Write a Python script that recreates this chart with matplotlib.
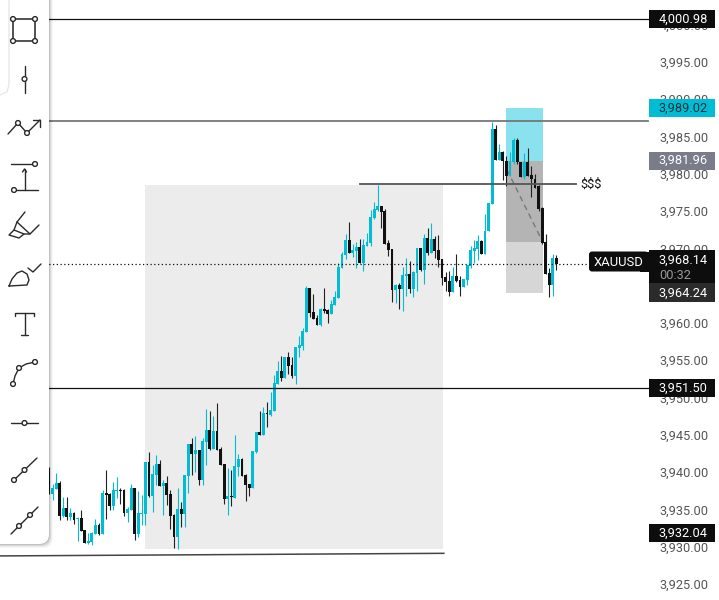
import numpy as np
import matplotlib
matplotlib.use("Agg")
import matplotlib.pyplot as plt
from matplotlib.patches import Rectangle, FancyBboxPatch, Circle

plt.rcParams['font.family'] = ['Roboto', 'DejaVu Sans']

# ------------------------------
# DATA
# ------------------------------
opens = [3940.20, 3937.20, 3937.88, 3938.68, 3934.25, 3935.33, 3934.12, 3934.66, 3933.85, 3933.99,
         3932.38, 3930.63, 3930.77, 3931.84, 3933.05, 3931.84, 3937.34, 3937.20, 3935.60, 3937.61,
         3937.74, 3937.74, 3934.66, 3935.06, 3938.01, 3931.84, 3934.52, 3934.52, 3941.50, 3936.94,
         3939.75, 3941.23, 3938.28, 3938.68, 3937.20, 3934.39, 3931.44, 3935.19, 3934.52, 3939.62,
         3943.91, 3942.57, 3943.10, 3939.08, 3944.18, 3945.79, 3943.24, 3945.65, 3943.24, 3941.23,
         3936.53, 3936.94, 3936.67, 3940.83, 3941.90, 3939.75, 3938.55, 3938.01, 3942.84, 3945.52,
         3945.12, 3948.07, 3947.80, 3948.33, 3951.95, 3953.70, 3952.76, 3955.57, 3954.50, 3953.03,
         3956.78, 3957.05, 3958.93, 3964.83, 3961.61, 3960.80, 3959.86, 3962.01, 3961.88, 3961.34,
         3962.55, 3963.49, 3967.51, 3969.25, 3971.26, 3969.52, 3969.79, 3970.32, 3968.18, 3970.46,
         3970.86, 3974.21, 3975.29, 3975.82, 3975.15, 3970.86, 3970.06, 3964.56, 3965.23, 3964.69,
         3966.44, 3966.70, 3964.69, 3966.84, 3970.19, 3967.24, 3971.53, 3969.52, 3971.40, 3969.92,
         3968.72, 3966.30, 3965.76, 3964.29, 3966.44, 3965.90, 3964.96, 3965.90, 3967.78, 3969.79,
         3970.06, 3971.13, 3969.48, 3972.52, 3976.18, 3986.15, 3981.99, 3983.07, 3981.86, 3979.85,
         3981.73, 3984.68, 3981.73, 3979.71, 3981.73, 3979.98, 3979.45, 3978.51, 3975.56, 3971.00,
         3966.84, 3965.23, 3968.85]
highs = [3940.87, 3938.55, 3940.02, 3938.95, 3936.80, 3936.80, 3935.33, 3934.79, 3934.12, 3935.06,
         3932.38, 3931.97, 3932.11, 3933.85, 3933.32, 3937.74, 3940.42, 3937.34, 3938.81, 3939.48,
         3938.01, 3937.88, 3935.46, 3938.55, 3938.01, 3937.61, 3937.07, 3941.50, 3942.84, 3941.09,
         3942.43, 3941.76, 3939.08, 3939.62, 3937.74, 3934.52, 3938.01, 3936.13, 3939.75, 3943.91,
         3944.71, 3944.98, 3943.10, 3944.71, 3948.60, 3948.33, 3947.66, 3949.41, 3943.51, 3941.23,
         3940.69, 3940.42, 3945.12, 3942.57, 3942.03, 3939.89, 3938.55, 3942.97, 3945.52, 3948.33,
         3948.87, 3949.54, 3950.88, 3953.16, 3955.04, 3955.71, 3955.57, 3956.24, 3955.57, 3956.91,
         3958.39, 3959.46, 3965.09, 3964.83, 3964.02, 3961.21, 3962.14, 3964.83, 3962.01, 3963.22,
         3964.42, 3968.18, 3969.65, 3972.07, 3973.68, 3970.73, 3970.99, 3971.40, 3971.40, 3972.20,
         3975.29, 3976.36, 3978.64, 3975.82, 3975.42, 3971.26, 3970.06, 3965.36, 3965.50, 3967.64,
         3968.85, 3968.45, 3967.11, 3970.19, 3970.19, 3972.07, 3972.87, 3973.54, 3971.80, 3971.93,
         3968.72, 3966.97, 3967.11, 3967.64, 3969.39, 3966.44, 3966.03, 3967.91, 3970.46, 3971.26,
         3971.93, 3971.27, 3974.84, 3976.27, 3987.09, 3986.69, 3984.14, 3983.20, 3982.53, 3983.07,
         3984.94, 3984.94, 3981.73, 3982.93, 3983.60, 3981.19, 3980.12, 3978.64, 3975.69, 3972.07,
         3967.51, 3969.39, 3969.25]
lows = [3937.20, 3936.40, 3937.88, 3933.72, 3934.12, 3933.72, 3933.72, 3933.18, 3930.90, 3932.24,
        3930.63, 3930.50, 3930.37, 3931.84, 3931.71, 3931.84, 3933.85, 3935.06, 3935.06, 3936.67,
        3935.86, 3934.25, 3933.45, 3935.06, 3931.04, 3931.44, 3933.05, 3933.05, 3936.80, 3934.79,
        3938.41, 3938.28, 3934.39, 3935.73, 3932.51, 3929.96, 3929.83, 3932.78, 3932.78, 3937.34,
        3939.75, 3940.15, 3938.41, 3938.41, 3941.09, 3943.10, 3943.24, 3943.10, 3941.09, 3935.86,
        3934.39, 3935.60, 3936.67, 3939.62, 3939.62, 3936.27, 3936.94, 3938.01, 3942.70, 3945.12,
        3945.12, 3946.19, 3947.66, 3948.33, 3951.95, 3952.35, 3952.76, 3953.29, 3952.76, 3951.95,
        3955.57, 3956.51, 3958.93, 3960.94, 3960.67, 3959.86, 3959.73, 3961.47, 3960.13, 3961.34,
        3962.55, 3963.49, 3967.51, 3968.72, 3969.52, 3968.98, 3967.51, 3968.18, 3967.11, 3970.46,
        3970.46, 3974.08, 3975.15, 3972.87, 3970.73, 3969.12, 3962.95, 3962.81, 3962.01, 3961.74,
        3963.75, 3964.16, 3963.62, 3964.42, 3967.11, 3965.36, 3969.25, 3969.52, 3968.85, 3967.64,
        3965.23, 3964.42, 3963.75, 3964.29, 3965.63, 3963.75, 3964.96, 3965.23, 3967.51, 3968.18,
        3968.58, 3969.39, 3969.39, 3972.52, 3976.18, 3981.99, 3981.99, 3979.31, 3978.51, 3979.85,
        3981.55, 3981.55, 3979.71, 3979.54, 3979.85, 3977.03, 3978.24, 3975.15, 3970.73, 3966.71,
        3963.62, 3963.76, 3967.24]
closes = [3937.96, 3938.01, 3938.68, 3934.25, 3935.33, 3934.12, 3934.66, 3933.72, 3933.99, 3932.24,
          3930.63, 3930.90, 3931.97, 3933.05, 3931.84, 3937.34, 3937.07, 3935.60, 3937.74, 3937.74,
          3937.61, 3934.66, 3935.19, 3938.01, 3931.84, 3934.66, 3934.66, 3941.50, 3936.94, 3939.89,
          3941.23, 3938.28, 3938.68, 3937.07, 3934.25, 3931.44, 3935.19, 3934.52, 3939.75, 3943.91,
          3942.57, 3943.10, 3939.08, 3944.31, 3945.79, 3943.24, 3945.65, 3943.10, 3941.09, 3936.53,
          3936.94, 3936.80, 3940.96, 3941.90, 3939.62, 3938.41, 3938.01, 3942.97, 3945.52, 3945.12,
          3948.07, 3947.93, 3948.47, 3952.09, 3953.70, 3952.76, 3955.57, 3954.37, 3953.03, 3956.91,
          3957.18, 3959.06, 3964.83, 3961.47, 3960.67, 3959.86, 3962.01, 3961.74, 3961.34, 3962.68,
          3963.62, 3967.64, 3969.39, 3971.26, 3969.52, 3969.92, 3970.32, 3968.18, 3970.59, 3970.99,
          3974.35, 3975.42, 3975.82, 3975.02, 3970.73, 3969.92, 3964.56, 3965.23, 3964.69, 3966.57,
          3966.70, 3964.69, 3966.97, 3970.19, 3967.24, 3971.53, 3969.52, 3971.40, 3969.79, 3968.58,
          3966.17, 3965.63, 3964.29, 3966.44, 3965.76, 3964.96, 3966.03, 3967.91, 3969.92, 3970.19,
          3971.13, 3969.48, 3972.52, 3976.27, 3986.15, 3981.99, 3983.07, 3981.86, 3979.85, 3981.86,
          3984.68, 3981.73, 3979.71, 3981.73, 3979.85, 3979.45, 3978.33, 3975.42, 3970.86, 3966.71,
          3965.23, 3968.85, 3968.05]

axis_ticks = [4000, 3995, 3990, 3985, 3980, 3975, 3970, 3965, 3960, 3955, 3950, 3945, 3940, 3935, 3930, 3925]

level_black = [4000.98, 3951.50]
level_grey = 3987.25
level_liquidity = 3978.78
last_price = 3968.14

# zone (bar index from/to, price from/to)
zone_bars = [26.87, 110.3]
zone_prices = [3929.83, 3978.64]

# position box
box_bars = [127.9, 138.3]
box_target = 3989.02
box_entry = 3981.96
box_mid = 3971.00
box_stop = 3964.24

CYAN = '#00BCD4'
DARK = '#111111'
FS = 9.2

# ------------------------------
# FIGURE
# ------------------------------
fig = plt.figure(figsize=(7.19, 6.0), dpi=100)
ax = fig.add_axes([0, 0, 1, 1])
ax.set_xlim(-13.71, 187.5)
ax.set_ylim(3923.04, 4003.50)
ax.axis('off')
axis_left = 648 / 719  # start of price scale in axes fraction
ytrans = ax.get_yaxis_transform()  # x in axes fraction, y in price

# shaded zone
ax.add_patch(Rectangle((zone_bars[0], zone_prices[0]), zone_bars[1] - zone_bars[0],
                       zone_prices[1] - zone_prices[0], color='#ececec', lw=0, zorder=1))

# position box
box_w = box_bars[1] - box_bars[0]
ax.add_patch(Rectangle((box_bars[0], box_entry), box_w, box_target - box_entry, color='#8ae2ee', lw=0, zorder=1))
ax.add_patch(Rectangle((box_bars[0], box_mid), box_w, box_entry - box_mid, color='#b4b4b4', lw=0, zorder=1))
ax.add_patch(Rectangle((box_bars[0], box_stop), box_w, box_mid - box_stop, color='#d6d6d6', lw=0, zorder=1))
ax.plot([128.2, 137.9], [3980.7, 3971.3], color='#77777f', lw=1, ls=(0, (4, 3)), zorder=2)

# candles
idx = np.arange(len(opens))
o, h, l, c = map(np.array, (opens, highs, lows, closes))
up = c >= o
ax.vlines(idx[up], l[up], h[up], color=CYAN, lw=0.8, zorder=3)
ax.vlines(idx[~up], l[~up], h[~up], color='#222222', lw=0.8, zorder=3)
ax.bar(idx[up], np.maximum(c - o, 0.2)[up], bottom=o[up], width=0.8, color=CYAN, lw=0, zorder=4)
ax.bar(idx[~up], np.maximum(o - c, 0.2)[~up], bottom=c[~up], width=0.8, color=DARK, lw=0, zorder=4)

# horizontal levels
for lv in level_black:
    ax.plot([0, axis_left], [lv, lv], color='#111111', lw=0.9, transform=ytrans, zorder=5)
ax.plot([0, axis_left], [level_grey, level_grey], color='#777777', lw=1.3, transform=ytrans, zorder=5)
ax.plot([87.0, 147.5], [level_liquidity, level_liquidity], color='#555555', lw=1.3, zorder=5)
ax.text(148.6, level_liquidity, '$$$', fontsize=FS, color='#111111', va='center', ha='left', zorder=6)
ax.plot([-13.71, 110.5], [3928.95, 3929.3], color='#444444', lw=1.1, zorder=5)
ax.plot([0, axis_left], [last_price, last_price], color='#111111', lw=0.9, ls=(0, (1, 2)), transform=ytrans, zorder=5)

# price scale
for t in axis_ticks:
    ax.text(684 / 719, t, f"{t:,.2f}", transform=ytrans, fontsize=FS, color='#555555',
            ha='center', va='center', zorder=7)


def tag(price, label, face, color='white', half=1.22):
    # right hand price tag
    ax.add_patch(Rectangle((649 / 719, price - half), 66 / 719, 2 * half, transform=ytrans,
                           color=face, lw=0, zorder=8))
    ax.text(683 / 719, price, label, transform=ytrans, fontsize=FS, color=color,
            ha='center', va='center', zorder=9)


tag(4000.98, '4,000.98', '#0d0d0d')
tag(3989.02, '3,989.02', CYAN, color='#10323a')
tag(3981.96, '3,981.96', '#7a7c8a')
tag(3951.50, '3,951.50', '#0d0d0d')
tag(3932.04, '3,932.04', '#0d0d0d')

# current price block
ax.add_patch(Rectangle((649 / 719, 3964.24 + 1.25), 66 / 719, 4.55, transform=ytrans,
                       color='#0d0d0d', lw=0, zorder=8))
ax.add_patch(Rectangle((649 / 719, 3964.24 - 1.25), 66 / 719, 2.5, transform=ytrans,
                       color='#2b2b2b', lw=0, zorder=8))
ax.text(683 / 719, 3968.60, '3,968.14', transform=ytrans, fontsize=FS, color='white', ha='center', va='center', zorder=9)
ax.text(675.5 / 719, 3966.50, '00:32', transform=ytrans, fontsize=FS, color='#999999', ha='center', va='center', zorder=9)
ax.text(683 / 719, 3964.24, '3,964.24', transform=ytrans, fontsize=FS, color='white', ha='center', va='center', zorder=9)

# overlay in pixels for the tool bar and the symbol label
ov = fig.add_axes([0, 0, 1, 1], zorder=10)
ov.set_xlim(0, 719)
ov.set_ylim(600, 0)
ov.axis('off')
ov.patch.set_alpha(0)

ov.add_patch(FancyBboxPatch((589, 251.5), 59, 20, boxstyle='round,pad=0,rounding_size=3',
                            fc='#0d0d0d', ec='none'))
ov.add_patch(Rectangle((640, 251.5), 9, 20, fc='#0d0d0d', ec='none'))
ov.text(619, 262, 'XAUUSD', fontsize=FS + 0.2, color='white', ha='center', va='center')

# tool bar: soft shadow then panel
for grow, a in zip([4, 3, 2, 1], [0.03, 0.05, 0.07, 0.10]):
    ov.add_patch(FancyBboxPatch((-20, -20), 69 + grow, 564 + grow,
                                boxstyle='round,pad=0,rounding_size=10',
                                fc='black', ec='none', alpha=a))
ov.add_patch(FancyBboxPatch((-20, -20), 69, 564, boxstyle='round,pad=0,rounding_size=10',
                            fc='white', ec='none'))
ov.plot([9, 9, 7, 0], [0, 85, 92, 95], color='#e8e8e8', lw=1)

ICON = '#2a2a2a'


def line(xs, ys, lw=1.0, color=ICON):
    ov.plot(xs, ys, color=color, lw=lw, solid_capstyle='round', solid_joinstyle='round', zorder=3)


def dots(points, r=2.4):
    for x, y in points:
        ov.add_patch(Circle((x, y), r, fc='white', ec=ICON, lw=1.0, zorder=4))


# rectangle
line([13, 35, 35, 13, 13], [19, 19, 41, 41, 19], lw=1.3, color='#444444')
dots([(13, 19), (35, 19), (13, 41), (35, 41)])
# vertical line
line([24.5, 24.5], [66, 93])
dots([(24.5, 79)])
# trend with arrow
line([8, 18, 27, 40], [134, 123, 133, 120])
line([33, 40, 40], [120, 120, 127])
dots([(18, 123), (27, 133)])
# measure
line([11, 36], [164, 164])
line([14, 38], [190, 190])
line([24.5, 24.5], [190, 169])
line([22.5, 24.5, 26.5], [172, 169, 172])
dots([(35, 164), (14, 190)])
# brush
line([25, 17, 14, 9, 19, 24, 30, 39], [212, 222, 230, 235, 238, 234, 234, 225])
line([17, 30], [222, 234])
line([14, 24], [230, 234])
# leaf
line([9, 12, 17, 22, 27, 29, 27, 9], [286, 279, 273, 271, 274, 280, 285, 286])
line([28, 33, 41], [268, 272, 264])
# text
line([15, 15, 34, 34], [316, 313, 313, 316])
line([24.5, 24.5], [313, 335])
line([21, 28], [335, 335])
# curve
line([13, 15, 19, 26, 35], [384, 376, 368, 364, 362])
dots([(13, 384), (19, 368), (35, 362)])
# horizontal ray
line([11, 38], [423, 423])
dots([(24.5, 423)])
# segments
line([14, 37], [480, 458])
dots([(14, 480), (24.5, 470)])
line([11, 38], [534, 507])
dots([(19, 526), (30, 515)])

fig.savefig('out.png', dpi=100)
